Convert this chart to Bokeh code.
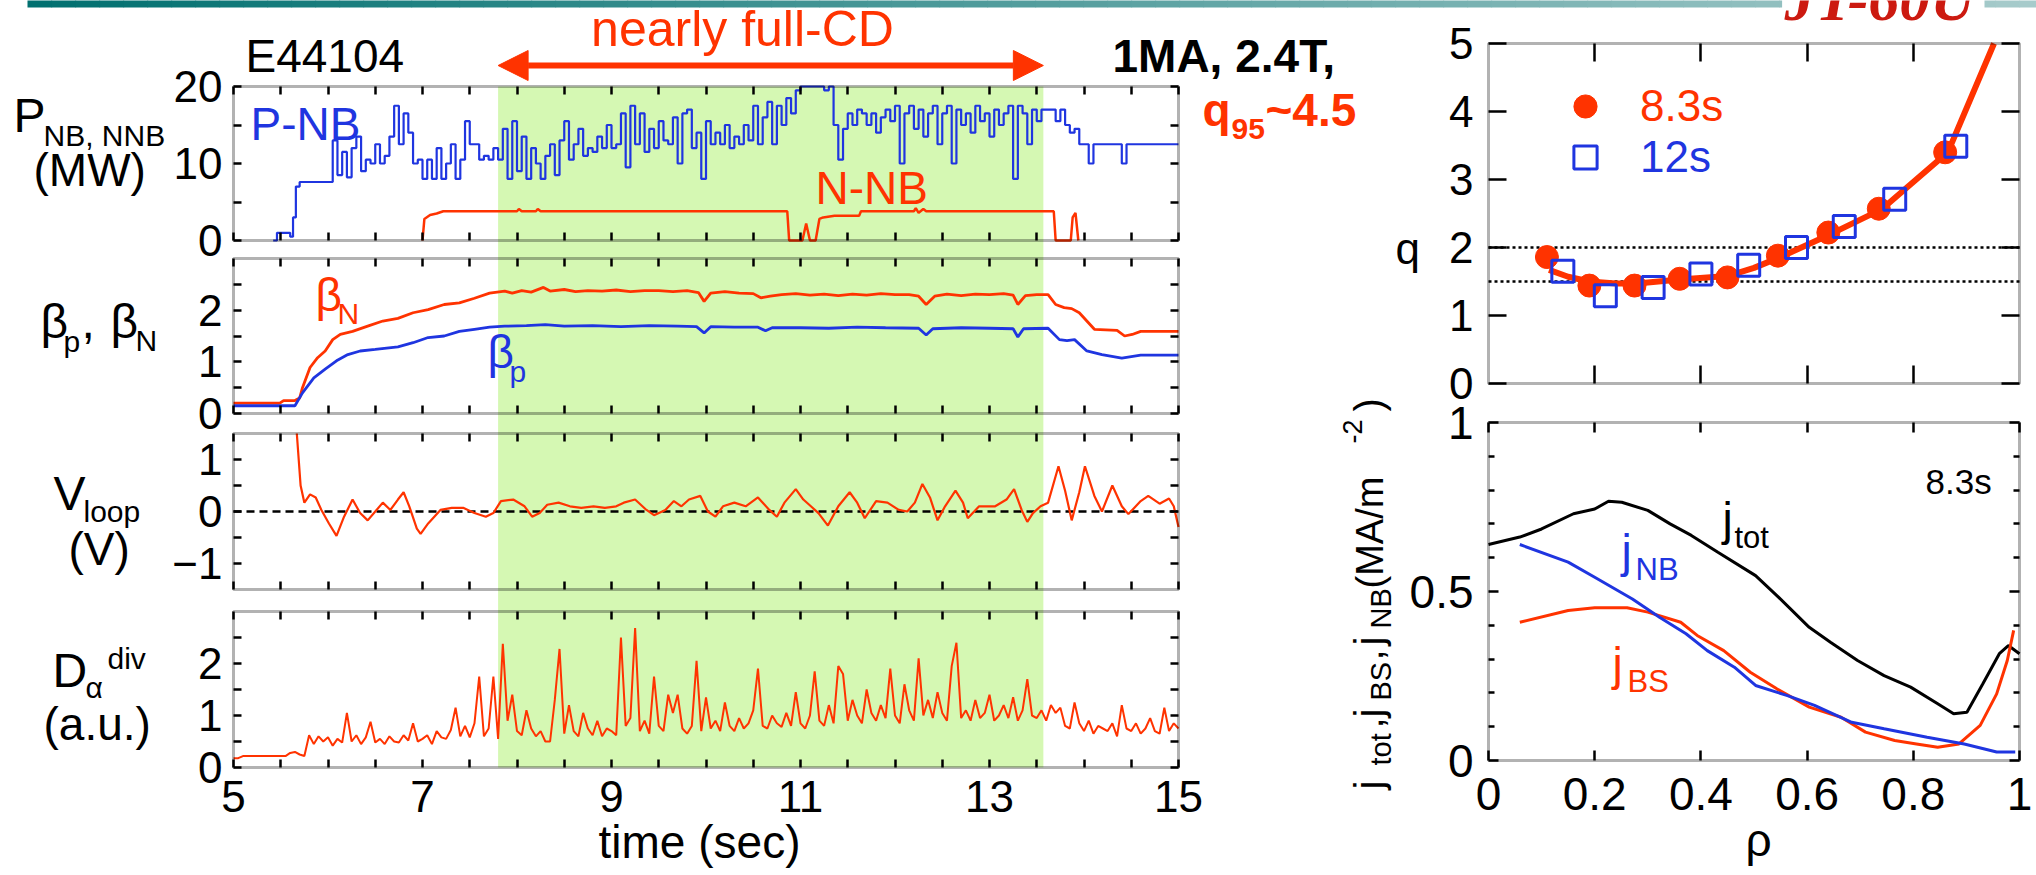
import numpy as np
from bokeh.plotting import figure
from bokeh.models import (Range1d, LinearAxis, FixedTicker, BoxAnnotation, Label, Arrow,
                          NormalHead, Legend, LegendItem, CustomLabelingPolicy)
from bokeh.embed import file_html
from bokeh.resources import INLINE

# ------------------------------------------------------------------ data
shot = "E44104"
cd_start, cd_end = 7.8, 13.57          # nearly full-CD phase (s)
t_lo, t_hi = 5, 15                     # time axis limits (s)

# P-NB (MW): start-up then 0.05 s samples from 6.00 s to 15.00 s
pnb_t0 = [5.42, 5.46, 5.55, 5.60, 5.63, 5.66, 5.70]
pnb_v0 = [0.0, 1.0, 1.0, 0.5, 3.0, 7.0, 7.6]
pnb_v = [
    7.6, 13.0, 8.5, 11.5, 8.2, 12.0, 13.5, 9.0, 10.5, 10.0,
    12.5, 10.0, 11.0, 13.5, 17.5, 12.5, 16.5, 14.0, 10.0, 10.5,
    8.0, 10.5, 8.0, 12.0, 8.0, 10.0, 12.5, 8.0, 10.5, 15.5,
    12.5, 12.5, 10.5, 11.0, 10.5, 12.0, 10.5, 14.5, 8.0, 15.5,
    9.0, 13.5, 8.0, 12.0, 10.0, 8.0, 11.0, 12.5, 8.5, 13.0,
    15.5, 10.5, 12.5, 14.5, 11.0, 12.0, 11.5, 13.5, 12.0, 15.0,
    12.0, 12.5, 16.5, 9.5, 17.5, 12.5, 16.5, 11.5, 14.5, 12.0,
    15.5, 13.0, 12.5, 16.0, 10.0, 16.5, 17.0, 12.0, 14.0, 8.0,
    15.5, 12.5, 14.0, 12.5, 15.0, 12.0, 13.5, 12.5, 15.0, 13.0,
    17.5, 12.5, 16.0, 18.0, 12.5, 17.5, 15.0, 18.5, 16.5, 19.5,
    20.0, 20.0, 20.0, 20.0, 20.0, 19.5, 20.0, 15.0, 10.5, 14.5,
    16.5, 15.0, 17.0, 16.5, 15.0, 16.5, 14.0, 16.0, 17.0, 15.5,
    17.5, 10.0, 16.5, 17.5, 14.5, 17.0, 13.5, 16.5, 17.5, 12.5,
    16.5, 17.5, 10.0, 17.0, 15.0, 16.5, 14.0, 17.5, 15.5, 16.5,
    13.5, 17.0, 15.0, 16.5, 17.5, 8.0, 17.5, 16.5, 12.5, 17.0,
    15.5, 17.0, 17.0, 17.0, 15.5, 17.0, 15.0, 14.0, 14.5, 12.5,
    12.5, 10.0, 12.5, 12.5, 12.5, 12.5, 12.5, 12.5, 10.0, 12.5,
    12.5, 12.5, 12.5, 12.5, 12.5, 12.5, 12.5, 12.5, 12.5, 12.5,
    12.5]
pnb_t = pnb_t0 + [round(6.0 + 0.05 * i, 2) for i in range(len(pnb_v))]
pnb_all = pnb_v0 + pnb_v

# N-NB (MW)
nnb_t = [7.00, 7.02, 7.08, 7.15, 7.22, 8.00, 8.02, 8.05, 8.20, 8.22, 8.25, 10.86, 10.88,
         11.02, 11.06, 11.10, 11.16, 11.20, 11.24, 11.36, 11.62, 11.64, 12.20, 12.22,
         12.25, 12.30, 12.33, 13.68, 13.70, 13.86, 13.88, 13.91, 13.94]
nnb_v = [0.0, 2.8, 3.3, 3.5, 3.8, 3.8, 4.1, 3.8, 3.8, 4.1, 3.8, 3.8, 0.0,
         0.0, 2.2, 0.0, 0.0, 2.8, 3.0, 3.2, 3.2, 3.8, 3.8, 4.2,
         3.6, 4.1, 3.8, 3.8, 0.0, 0.0, 3.0, 3.6, 0.0]

# beta_N
bn_t = [5.0, 5.49, 5.53, 5.65, 5.70, 5.73, 5.81, 5.89, 5.97, 6.05, 6.13, 6.26, 6.42, 6.58,
        6.74, 6.90, 7.06, 7.23, 7.39, 7.55, 7.71, 7.87, 7.95, 8.05, 8.15, 8.28, 8.35, 8.50,
        8.62, 8.75, 8.90, 9.05, 9.20, 9.35, 9.50, 9.65, 9.80, 9.92, 9.98, 10.05, 10.20,
        10.35, 10.50, 10.58, 10.68, 10.80, 10.95, 11.10, 11.25, 11.40, 11.55, 11.70, 11.85,
        12.00, 12.15, 12.25, 12.33, 12.42, 12.55, 12.70, 12.85, 13.00, 13.15, 13.25, 13.30,
        13.38, 13.50, 13.62, 13.70, 13.79, 13.87, 13.95, 14.03, 14.11, 14.35, 14.43, 14.51,
        14.60, 15.0]
bn_v = [0.20, 0.20, 0.25, 0.25, 0.30, 0.50, 0.89, 1.08, 1.21, 1.43, 1.53, 1.59, 1.69, 1.79,
        1.84, 1.95, 2.01, 2.11, 2.14, 2.23, 2.33, 2.37, 2.33, 2.38, 2.35, 2.44, 2.37, 2.40,
        2.36, 2.38, 2.37, 2.39, 2.36, 2.38, 2.38, 2.36, 2.38, 2.34, 2.17, 2.33, 2.36,
        2.33, 2.32, 2.24, 2.27, 2.30, 2.32, 2.29, 2.31, 2.28, 2.31, 2.29, 2.32,
        2.30, 2.30, 2.27, 2.11, 2.27, 2.31, 2.28, 2.31, 2.30, 2.32, 2.29, 2.11,
        2.28, 2.30, 2.30, 2.11, 2.05, 2.03, 1.95, 1.79, 1.63, 1.61, 1.50, 1.53,
        1.59, 1.59]

# beta_p
bp_t = [5.0, 5.65, 5.73, 5.85, 5.97, 6.09, 6.21, 6.34, 6.50, 6.74, 6.90, 7.06, 7.23, 7.39,
        7.55, 7.71, 7.87, 8.10, 8.30, 8.50, 8.80, 9.10, 9.40, 9.70, 9.90, 9.98, 10.05,
        10.30, 10.55, 10.63, 10.70, 11.00, 11.30, 11.60, 11.90, 12.25, 12.33, 12.40,
        12.70, 13.00, 13.25, 13.30, 13.36, 13.62, 13.74, 13.82, 13.90, 14.03, 14.19,
        14.40, 14.60, 15.0]
bp_v = [0.15, 0.15, 0.40, 0.69, 0.86, 1.02, 1.14, 1.21, 1.24, 1.29, 1.37, 1.47, 1.50, 1.59,
        1.63, 1.67, 1.69, 1.70, 1.72, 1.69, 1.70, 1.68, 1.70, 1.69, 1.68, 1.56, 1.68,
        1.67, 1.67, 1.60, 1.66, 1.66, 1.65, 1.67, 1.66, 1.65, 1.52, 1.64,
        1.66, 1.65, 1.64, 1.48, 1.64, 1.65, 1.43, 1.41, 1.43, 1.21, 1.14,
        1.07, 1.13, 1.13]

# V_loop (V)
vl_t = [5.67, 5.71, 5.75, 5.81, 5.87, 5.93, 6.01, 6.09, 6.17, 6.26, 6.34, 6.42, 6.50, 6.58,
        6.66, 6.74, 6.80, 6.86, 6.94, 6.98, 7.06, 7.19, 7.31, 7.43, 7.55, 7.67, 7.75, 7.83,
        7.96, 8.08, 8.16, 8.24, 8.32, 8.44, 8.56, 8.68, 8.81, 8.93, 9.05, 9.13, 9.25, 9.37,
        9.45, 9.57, 9.66, 9.74, 9.82, 9.94, 10.02, 10.10, 10.18, 10.30, 10.42, 10.55, 10.67,
        10.75, 10.83, 10.95, 11.03, 11.11, 11.19, 11.29, 11.40, 11.52, 11.60, 11.68, 11.80,
        11.92, 12.04, 12.13, 12.21, 12.29, 12.37, 12.45, 12.53, 12.64, 12.72, 12.77, 12.89,
        13.06, 13.18, 13.26, 13.34, 13.40, 13.46, 13.54, 13.62, 13.73, 13.80, 13.87, 13.95,
        14.01, 14.11, 14.19, 14.30, 14.40, 14.47, 14.60, 14.68, 14.80, 14.90, 14.95, 15.0]
vl_v = [1.5, 0.5, 0.17, 0.33, 0.27, 0.03, -0.23, -0.47, -0.10, 0.23, -0.03, -0.17, 0.0, 0.17,
        0.03, 0.23, 0.37, 0.10, -0.33, -0.43, -0.23, 0.03, 0.07, 0.07, -0.03, -0.10, -0.03, 0.20,
        0.23, 0.10, -0.10, -0.03, 0.13, 0.17, 0.10, 0.07, 0.10, 0.07, 0.10, 0.17, 0.23, 0.03,
        -0.07, 0.03, 0.20, 0.10, 0.23, 0.30, 0.0, -0.10, 0.10, 0.17, 0.10, 0.27, 0.03,
        -0.10, 0.17, 0.43, 0.23, 0.10, -0.03, -0.27, 0.10, 0.37, 0.17, -0.13, 0.20,
        0.17, 0.03, 0.0, 0.17, 0.53, 0.27, -0.17, 0.10, 0.40, 0.17, -0.13, 0.10,
        0.10, 0.23, 0.43, 0.03, -0.20, -0.03, 0.10, 0.17, 0.87, 0.40, -0.17, 0.37,
        0.87, 0.30, 0.0, 0.50, 0.10, -0.05, 0.20, 0.30, 0.15, 0.25, 0.10, -0.30]
vl_ref = 0.0

# D_alpha^div (a.u.), 0.05 s samples from 5.00 s to 15.00 s
da_v = [
    0.18, 0.18, 0.22, 0.22, 0.22, 0.22, 0.22, 0.22, 0.22, 0.22, 0.22, 0.22,
    0.28, 0.30, 0.25, 0.22,
    0.62, 0.45, 0.60, 0.50, 0.58,
    0.42, 0.55, 0.48, 1.05, 0.50, 0.62, 0.45, 0.58, 0.88, 0.48,
    0.55, 0.45, 0.60, 0.50, 0.48, 0.62, 0.52, 0.85, 0.50, 0.55,
    0.62, 0.45, 0.70, 0.58, 0.55, 0.72, 1.15, 0.60, 0.80, 0.58,
    0.85, 1.75, 0.60, 0.75, 1.75, 0.55,
    2.38, 0.90, 1.40, 0.70, 0.62, 1.10, 0.75, 0.60, 0.70, 0.50,
    0.50, 1.30, 2.28, 0.65, 1.20, 0.70, 0.60, 1.05, 0.75, 0.62,
    0.90, 0.60, 0.75, 0.70, 0.62, 2.50, 0.80, 0.95, 2.68, 0.70,
    0.90, 0.65, 1.75, 0.80, 0.70, 1.40, 1.05, 1.40, 0.75, 0.65,
    0.80, 2.05, 0.70, 1.35, 0.75, 0.90, 0.70, 1.25, 0.80, 0.70,
    0.95, 0.75, 0.85, 1.10, 1.90, 0.80, 0.75, 1.00, 0.85, 0.78,
    1.05, 0.80, 1.45, 0.85, 0.75, 1.00, 1.85, 0.90, 0.80, 1.20,
    0.85, 1.95, 1.80, 0.90, 1.30, 1.00, 0.85, 1.50, 1.05, 0.90,
    1.20, 0.95, 1.90, 1.00, 0.85, 1.60, 1.10, 0.90, 2.10, 1.00,
    1.30, 0.95, 1.45, 1.05, 0.90, 1.95, 2.40, 0.95, 1.10, 0.90,
    1.30, 0.95, 1.05, 1.40, 0.90, 1.00, 1.20, 0.95, 1.35, 0.90,
    1.10, 1.70, 1.00, 0.95, 1.10, 0.90, 1.20, 1.05, 1.15, 0.80,
    0.75, 1.25, 0.85, 0.70, 0.90, 0.65, 0.80, 0.75, 0.70, 0.85,
    0.60, 1.20, 0.75, 0.70, 0.85, 0.65, 0.75, 0.95, 0.70, 0.65,
    1.15, 0.70, 0.85, 0.75]
da_t = [round(5.0 + 0.05 * i, 2) for i in range(len(da_v))]

# q profiles
q83_rho = [0.11, 0.19, 0.275, 0.36, 0.45, 0.545, 0.64, 0.735, 0.86]
q83_q = [1.86, 1.44, 1.44, 1.54, 1.56, 1.88, 2.22, 2.57, 3.40]
q12_rho = [0.14, 0.22, 0.31, 0.40, 0.49, 0.58, 0.67, 0.765, 0.88]
q12_q = [1.65, 1.29, 1.41, 1.61, 1.74, 2.00, 2.31, 2.71, 3.49]
qfit_rho = [0.114, 0.15, 0.19, 0.24, 0.28, 0.36, 0.45, 0.50, 0.55, 0.645, 0.74, 0.865, 0.952]
qfit_q = [1.67, 1.57, 1.50, 1.47, 1.47, 1.53, 1.58, 1.70, 1.86, 2.20, 2.56, 3.40, 5.0]
q_ref_levels = [2.0, 1.5]
rho_lo, rho_hi = 0, 1

# current density profiles at 8.3 s (MA/m^2)
jtot_rho = [0.0, 0.059, 0.10, 0.16, 0.20, 0.226, 0.251, 0.30, 0.342, 0.382, 0.432, 0.503,
            0.543, 0.604, 0.644, 0.695, 0.745, 0.795, 0.846, 0.876, 0.901, 0.931, 0.962,
            0.979, 1.0]
jtot = [0.639, 0.661, 0.685, 0.730, 0.744, 0.767, 0.764, 0.740, 0.700, 0.666, 0.616, 0.547,
        0.488, 0.394, 0.350, 0.296, 0.251, 0.217, 0.168, 0.138, 0.143, 0.227, 0.316,
        0.340, 0.316]
jnb_rho = [0.059, 0.150, 0.20, 0.271, 0.322, 0.372, 0.412, 0.463, 0.503, 0.563, 0.614,
           0.684, 0.745, 0.826, 0.896, 0.957, 0.992]
jnb = [0.639, 0.587, 0.542, 0.478, 0.424, 0.375, 0.325, 0.276, 0.222, 0.192, 0.163,
       0.113, 0.094, 0.069, 0.049, 0.025, 0.025]
jbs_rho = [0.059, 0.150, 0.20, 0.261, 0.30, 0.362, 0.393, 0.443, 0.493, 0.543, 0.604,
           0.664, 0.710, 0.765, 0.806, 0.846, 0.886, 0.926, 0.957, 0.977, 0.989]
jbs = [0.409, 0.444, 0.452, 0.452, 0.439, 0.409, 0.370, 0.325, 0.261, 0.212, 0.158,
       0.128, 0.084, 0.059, 0.049, 0.039, 0.049, 0.104, 0.197, 0.296, 0.385]

# ------------------------------------------------------------------ style / layout
FONT = "Liberation Sans"
RED = "#ff3300"
BLUE = "#1f35e0"
GREEN = "#d5f8b3"
W, H = 2036, 875

# panel boxes in page pixels: left, right, top, bottom
TL, TR = 233, 1178
RL, RR = 1488, 2019
BOX = {"p1": (TL, TR, 86, 240), "p2": (TL, TR, 258, 413), "p3": (TL, TR, 433, 589),
       "p4": (TL, TR, 611, 767), "q": (RL, RR, 43, 383), "j": (RL, RR, 422, 760)}
YLIM = {"p1": (0, 20), "p2": (0, 3), "p3": (-1.5, 1.5), "p4": (0, 3), "q": (0, 5), "j": (0, 1)}


def xrange_for(px0, px1, v0, v1):
    s = (v1 - v0) / (px1 - px0)
    return Range1d(v0 - px0 * s, v0 + (W - px0) * s)


def yrange_for(pb, pt, v0, v1):
    s = (v1 - v0) / (pb - pt)
    return Range1d(v0 - (H - pb) * s, v0 + pb * s)


# one canvas-wide frame: default ranges are page pixels, panels use named ranges
p = figure(width=W, height=H, x_range=Range1d(0, W), y_range=Range1d(H, 0),
           output_backend="svg", toolbar_location=None,
           x_axis_location=None, y_axis_location=None,
           min_border_left=0, min_border_right=0, min_border_top=0, min_border_bottom=0)
p.outline_line_color = None
p.grid.visible = False
p.background_fill_color = "white"
p.border_fill_color = "white"
p.extra_x_ranges = {"t": xrange_for(TL, TR, t_lo, t_hi), "rho": xrange_for(RL, RR, rho_lo, rho_hi)}
p.extra_y_ranges = {k: yrange_for(BOX[k][3], BOX[k][2], *YLIM[k]) for k in BOX}


def axis(side, xname, yname, loc, major, minor=(), tick=8, minor_tick=None, labels=False,
         overrides=None, size="44px", standoff=11):
    ax = LinearAxis(x_range_name=xname, y_range_name=yname, fixed_location=loc,
                    ticker=FixedTicker(ticks=list(major), minor_ticks=list(minor)))
    ax.axis_line_color = None
    ax.major_tick_in = tick
    ax.major_tick_out = 0
    ax.minor_tick_in = tick if minor_tick is None else minor_tick
    ax.minor_tick_out = 0
    ax.major_tick_line_width = 2.5
    ax.minor_tick_line_width = 2.5
    ax.major_tick_line_color = "black"
    ax.minor_tick_line_color = "black"
    if labels:
        ax.major_label_text_font = FONT
        ax.major_label_text_font_size = size
        ax.major_label_text_color = "black"
        ax.major_label_standoff = standoff
        if overrides:
            ax.major_label_overrides = overrides
    else:
        ax.major_label_policy = CustomLabelingPolicy(code="return []")
        ax.major_label_text_font_size = "0px"
        ax.major_label_standoff = 0
    p.add_layout(ax, side)


MID = 0.35    # baseline -> middle of text, in ems (horizontal text)
ROT = 0.60    # baseline -> anchor for text turned by 90 degrees, in ems


def lab(text, px, py, size, color="black", style="normal", align="left", angle=0.0, font=FONT):
    """Place text whose baseline starts at page pixel (px, py)."""
    if angle:
        x, y = px - ROT * size, py
    else:
        x, y = px, py - MID * size
    p.add_layout(Label(x=x, y=y, text=text, text_font=font, text_font_size=f"{size}px",
                       text_color=color, text_font_style=style, text_align=align,
                       text_baseline="middle", angle=angle))


# ---- top banner (gradient) with gap for the logo
c0, c1 = np.array([0, 112, 112]), np.array([168, 204, 204])
edges = list(range(27, W, 24)) + [W]
for a, b in zip(edges[:-1], edges[1:]):
    frac = ((a + b) / 2 - 27) / (W - 27)
    col = "#%02x%02x%02x" % tuple((c0 + (c1 - c0) * frac).astype(int))
    for g0, g1 in [(a, min(b, 1781)), (max(a, 1984), b)]:
        if g1 > g0:
            p.add_layout(BoxAnnotation(left=g0, right=g1 + 0.6, top=-2, bottom=7,
                                       fill_color=col, fill_alpha=1.0, line_color=None))
lab("JT-60U", 1784, 20, 62, "#cc1a10", style="bold italic", font="Liberation Serif")

# ---- green CD phase band
p.add_layout(BoxAnnotation(left=cd_start, right=cd_end, x_range_name="t",
                           top=BOX["p1"][2], bottom=BOX["p4"][3], fill_color=GREEN,
                           fill_alpha=1.0, line_color=None, level="underlay"))

# ---- time traces
p.step(pnb_t, pnb_all, mode="after", x_range_name="t", y_range_name="p1",
       line_color=BLUE, line_width=2.2)
p.line(nnb_t, nnb_v, x_range_name="t", y_range_name="p1", line_color=RED, line_width=2.5)
p.line(bn_t, bn_v, x_range_name="t", y_range_name="p2", line_color=RED, line_width=2.8)
p.line(bp_t, bp_v, x_range_name="t", y_range_name="p2", line_color=BLUE, line_width=2.8)
p.line([t_lo, t_hi], [vl_ref, vl_ref], x_range_name="t", y_range_name="p3",
       line_color="black", line_width=2.5, line_dash="8 5")
p.line(vl_t, vl_v, x_range_name="t", y_range_name="p3", line_color=RED, line_width=2.2)
p.line(da_t, da_v, x_range_name="t", y_range_name="p4", line_color=RED, line_width=2.0)

# ---- profile plots
for lv in q_ref_levels:
    p.line([rho_lo, rho_hi], [lv, lv], x_range_name="rho", y_range_name="q",
           line_color="black", line_width=2.5, line_dash="3 3")
p.line(qfit_rho, qfit_q, x_range_name="rho", y_range_name="q", line_color=RED, line_width=6)
r_c = p.scatter(q83_rho, q83_q, x_range_name="rho", y_range_name="q", marker="circle",
                size=23, fill_color=RED, line_color=RED)
r_s = p.scatter(q12_rho, q12_q, x_range_name="rho", y_range_name="q", marker="square",
                size=22, fill_color=None, line_color=BLUE, line_width=3)
p.line(jtot_rho, jtot, x_range_name="rho", y_range_name="j", line_color="black", line_width=3)
p.line(jbs_rho, jbs, x_range_name="rho", y_range_name="j", line_color=RED, line_width=3)
p.line(jnb_rho, jnb, x_range_name="rho", y_range_name="j", line_color=BLUE, line_width=3)

# ---- panel boxes
for k, (l, r, t, b) in BOX.items():
    p.add_layout(BoxAnnotation(left=l, right=r, top=t, bottom=b, fill_color=None,
                               line_color="black", line_width=3))

# ---- axes
time_major = [5, 7, 9, 11, 13, 15]
time_minor = [5.5, 6, 6.5, 7.5, 8, 8.5, 9.5, 10, 10.5, 11.5, 12, 12.5, 13.5, 14, 14.5]
yt = {"p1": ([0, 10, 20], [5, 15]), "p2": ([0, 1, 2], [0.5, 1.5, 2.5]),
      "p3": ([-1, 0, 1], [-0.5, 0.5]), "p4": ([0, 1, 2], [0.5, 1.5, 2.5])}
for k, (maj, mnr) in yt.items():
    l, r, t, b = BOX[k]
    axis("left", "default", k, l, maj, mnr, labels=True)
    axis("right", "default", k, r, maj, mnr)
    axis("above", "t", "default", t, time_major, time_minor)
    axis("below", "t", "default", b, time_major, time_minor, labels=(k == "p4"), standoff=13)

l, r, t, b = BOX["q"]
axis("left", "default", "q", l, [0, 1, 2, 3, 4, 5], tick=18, labels=True, standoff=15)
axis("right", "default", "q", r, [0, 1, 2, 3, 4, 5], tick=18)
axis("above", "rho", "default", t, [0.2, 0.4, 0.6, 0.8], tick=18)
axis("below", "rho", "default", b, [0.2, 0.4, 0.6, 0.8], tick=18)

l, r, t, b = BOX["j"]
rho_ticks = [0, 0.2, 0.4, 0.6, 0.8, 1]
j_minor = [0.1, 0.2, 0.3, 0.4, 0.6, 0.7, 0.8, 0.9]
axis("below", "rho", "default", b, rho_ticks, tick=10, labels=True, standoff=17,
     overrides={0: "0", 1: "1"}, size="46px")
axis("above", "rho", "default", t, rho_ticks, tick=10)
axis("left", "default", "j", l, [0, 0.5, 1], j_minor, tick=10, minor_tick=6, labels=True,
     standoff=15, overrides={0: "0", 1: "1"}, size="46px")
axis("right", "default", "j", r, [0, 0.5, 1], j_minor, tick=10, minor_tick=6)

# ---- header texts and arrow
lab(shot, 245, 72, 46)
lab("nearly full-CD", 742, 46, 50, RED, align="center")
p.add_layout(Arrow(x_start=cd_start, x_end=cd_end, y_start=65, y_end=65, x_range_name="t",
                   line_color=RED, line_width=6,
                   start=NormalHead(size=30, fill_color=RED, line_color=RED),
                   end=NormalHead(size=30, fill_color=RED, line_color=RED)))
lab("1MA, 2.4T,", 1112, 72, 46, style="bold")
lab("q", 1202, 126, 46, RED, style="bold")
lab("95", 1231, 139, 30, RED, style="bold")
lab("~4.5", 1265, 126, 46, RED, style="bold")

# ---- left panel labels
lab("P", 13, 132, 48)
lab("NB, NNB", 43, 145, 30)
lab("(MW)", 33, 186, 46)
lab("P-NB", 250, 140, 46, BLUE)
lab("N-NB", 815, 204, 46, RED)
lab("\u03b2", 40, 338, 48)
lab("p", 63, 351, 30)
lab(",", 81, 338, 48)
lab("\u03b2", 110, 338, 48)
lab("N", 135, 350, 30)
lab("\u03b2", 315, 311, 46, RED)
lab("N", 337, 323, 30, RED)
lab("\u03b2", 487, 368, 46, BLUE)
lab("p", 509, 381, 30, BLUE)
lab("V", 53, 510, 48)
lab("loop", 83, 521, 30)
lab("(V)", 68, 565, 46)
lab("D", 52, 687, 48)
lab("\u03b1", 85, 697, 30)
lab("div", 107, 668, 30)
lab("(a.u.)", 43, 740, 46)
lab("time (sec)", 699, 858, 46, align="center")

# ---- right panel labels
lab("q", 1395, 263, 44)
for r_, name, col, cy in [(r_c, "8.3s", RED, 106), (r_s, "12s", BLUE, 157)]:
    p.add_layout(Legend(items=[LegendItem(label=name, renderers=[r_])],
                        location=(1556, H - (cy + 29)),
                        glyph_width=58, glyph_height=58, label_standoff=26, label_height=58,
                        label_text_font=FONT, label_text_font_size="44px",
                        label_text_color=col, border_line_color=None,
                        background_fill_alpha=0, padding=0, margin=0, spacing=0))
lab("8.3s", 1925, 493, 35)
lab("j", 1722, 535, 46)
lab("tot", 1734, 548, 31)
lab("j", 1621, 567, 46, BLUE)
lab("NB", 1635, 580, 31, BLUE)
lab("j", 1612, 680, 46, RED)
lab("BS", 1627, 692, 31, RED)
lab("\u03c1", 1758, 856, 46, align="center")
for txt, bx, by, sz in [("j", 1392, 789, 40), ("tot", 1398, 765, 29), (",", 1392, 728, 40),
                        ("j", 1392, 717, 40), ("BS", 1398, 700, 29), (",", 1392, 660, 40),
                        ("j", 1392, 645, 40), ("NB", 1398, 628, 29), ("(MA/m", 1392, 588, 38),
                        ("-2", 1368, 443, 27), (")", 1392, 411, 40)]:
    lab(txt, bx, by, sz, angle=np.pi / 2)

open("out.html", "w").write(file_html(p, INLINE))
